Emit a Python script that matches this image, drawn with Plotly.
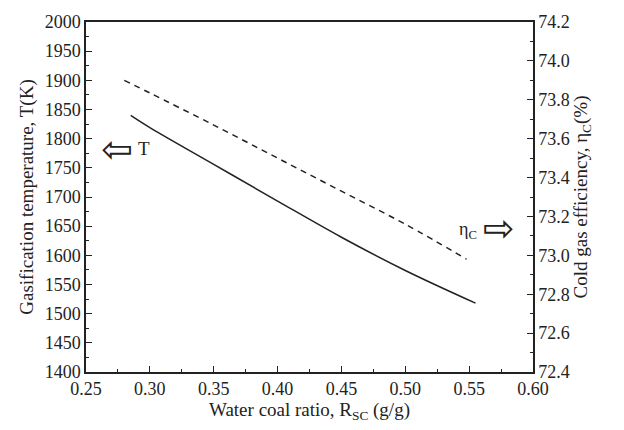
import plotly.graph_objects as go

# Data
t_x = [0.285, 0.30, 0.35, 0.40, 0.45, 0.50, 0.555]
t_vals = [1840, 1819, 1756, 1693, 1631, 1574, 1518]

eta_x = [0.28, 0.30, 0.35, 0.40, 0.45, 0.50, 0.548]
eta_vals = [73.90, 73.835, 73.67, 73.50, 73.33, 73.16, 72.98]

FONT = "Liberation Serif"
INK = "#222222"

fig = go.Figure()
fig.add_trace(go.Scatter(x=t_x, y=t_vals, mode="lines", line=dict(color=INK, width=1.5, shape="spline"),
                         name="T", showlegend=False))
fig.add_trace(go.Scatter(x=eta_x, y=eta_vals, mode="lines", yaxis="y2",
                         line=dict(color=INK, width=1.5, dash="6px,5px", shape="spline"),
                         name="eta", showlegend=False))

axis_common = dict(showline=True, linecolor=INK, linewidth=1.5, ticks="inside", ticklen=6, tickwidth=1.3,
                   tickcolor=INK, showgrid=False, zeroline=False,
                   tickfont=dict(family=FONT, size=18, color=INK))

TITLE_FONT = dict(family=FONT, size=19, color=INK)

fig.update_layout(
    width=624, height=430,
    margin=dict(l=86, r=91, t=20, b=58),
    paper_bgcolor="white", plot_bgcolor="white",
    font=dict(family=FONT, color=INK),
    xaxis=dict(range=[0.25, 0.60], dtick=0.05, tickformat=".2f", mirror=True,
               minor=dict(ticks="inside", ticklen=3, tickcolor=INK, dtick=0.025, tickwidth=1.2),
               title=dict(text="Water coal ratio, R<sub>SC</sub> (g/g)", font=TITLE_FONT, standoff=4),
               **axis_common),
    yaxis=dict(range=[1400, 2000], dtick=50,
               minor=dict(ticks="inside", ticklen=3, tickcolor=INK, dtick=25, tickwidth=1.2),
               title=dict(text="Gasification temperature, T(K)", font=TITLE_FONT, standoff=6),
               **axis_common),
    yaxis2=dict(range=[72.4, 74.2], dtick=0.2, tickformat=".1f", overlaying="y", side="right",
                minor=dict(ticks="inside", ticklen=3, tickcolor=INK, dtick=0.1, tickwidth=1.2),
                title=dict(text="Cold gas efficiency, η<sub>C</sub>(%)", font=TITLE_FONT, standoff=5),
                **axis_common),
)

fig.add_annotation(x=0.2743, y=1782, xref="x", yref="y", text="⇦", showarrow=False,
                   font=dict(family="DejaVu Sans", size=38, color=INK))
fig.add_annotation(x=0.2955, y=1783, xref="x", yref="y", text="T", showarrow=False,
                   font=dict(family=FONT, size=19, color=INK))
fig.add_annotation(x=0.549, y=73.13, xref="x", yref="y2", text="η<sub>C</sub>", showarrow=False,
                   font=dict(family=FONT, size=18, color=INK))
fig.add_annotation(x=0.5734, y=73.142, xref="x", yref="y2", text="⇨", showarrow=False,
                   font=dict(family="DejaVu Sans", size=38, color=INK))

fig.write_html("out.html")
